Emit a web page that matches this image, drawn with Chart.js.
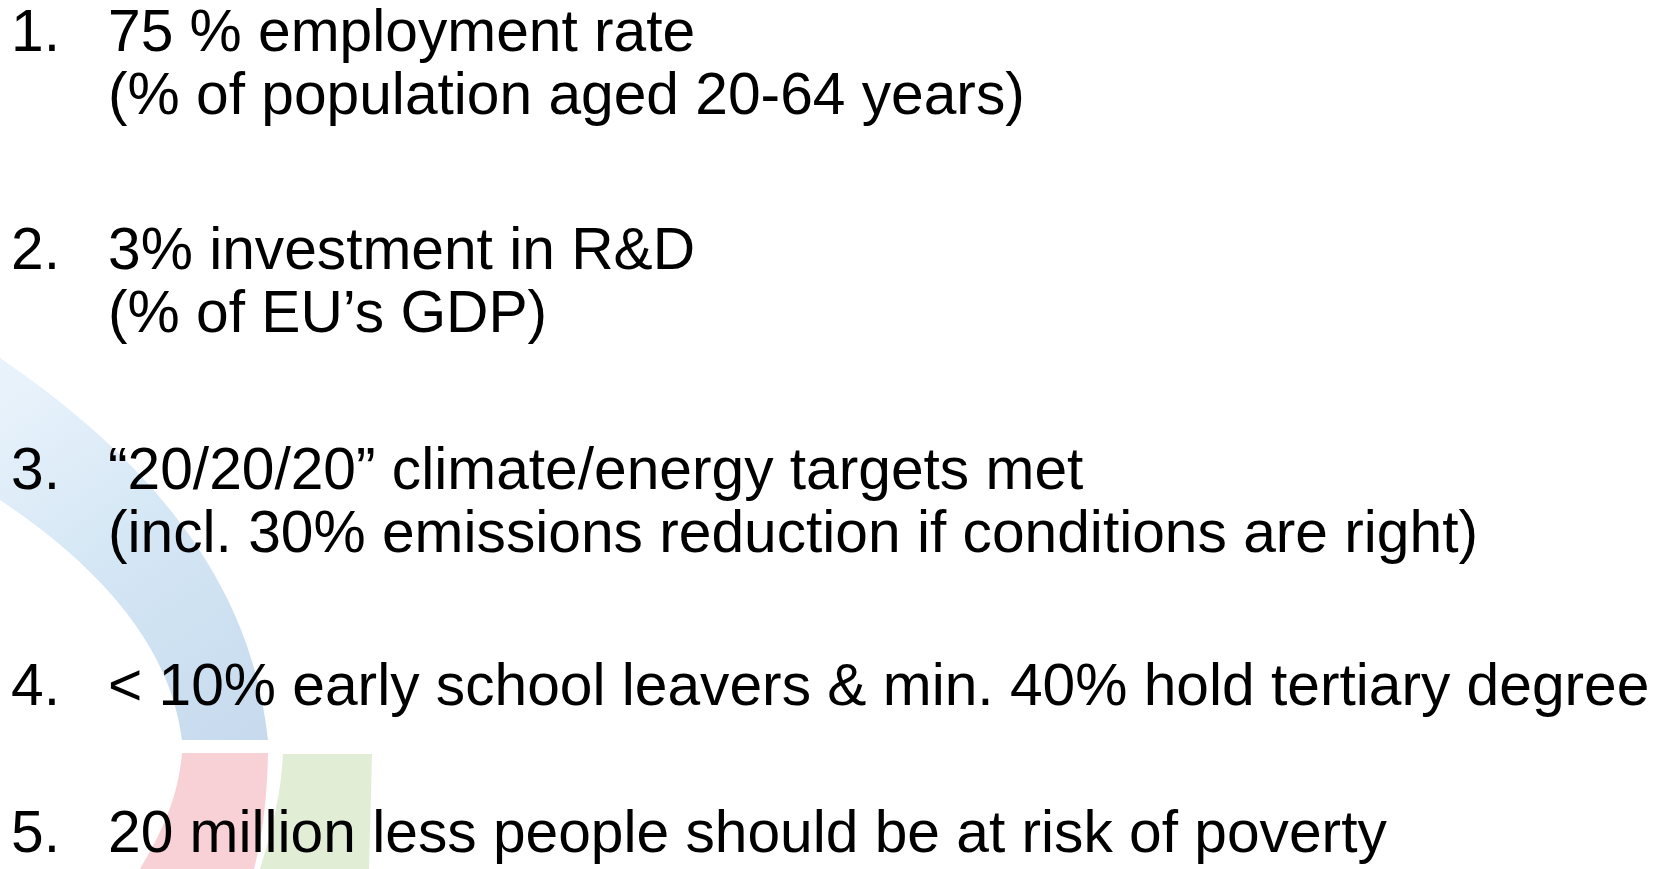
<!DOCTYPE html>
<html>
<head>
<meta charset="utf-8">
<script src="https://cdn.jsdelivr.net/npm/chart.js@4"></script>
<style>
  html, body { margin: 0; padding: 0; background: #ffffff; }
  #wrap { width: 1667px; height: 869px; position: relative; }
</style>
</head>
<body>
<div id="wrap"><canvas id="slide"></canvas></div>
<script>
// slide content
var itemNumbers = ["1.", "2.", "3.", "4.", "5."];
var itemLines = [
  ["75 % employment rate", "(% of population aged 20-64 years)"],
  ["3% investment in R&D", "(% of EU\u2019s GDP)"],
  ["\u201c20/20/20\u201d climate/energy targets met", "(incl. 30% emissions reduction if conditions are right)"],
  ["< 10% early school leavers & min. 40% hold tertiary degree"],
  ["20 million less people should be at risk of poverty"]
];

// faint logo behind the text
var logoPlugin = {
  id: "logo",
  beforeDatasetsDraw: function (chart) {
    var ctx = chart.ctx;
    var x = chart.scales.x, y = chart.scales.y;
    function px(v) { return x.getPixelForValue(v); }
    function py(v) { return y.getPixelForValue(v); }
    ctx.save();

    // blue swoosh
    var g = ctx.createLinearGradient(px(0), py(400), px(230), py(740));
    g.addColorStop(0, "#e8f2fb");
    g.addColorStop(0.45, "#d5e7f5");
    g.addColorStop(1, "#c8dbee");
    ctx.fillStyle = g;
    ctx.beginPath();
    ctx.moveTo(px(0), py(358));
    ctx.bezierCurveTo(px(120), py(440), px(250), py(560), px(268), py(740));
    ctx.lineTo(px(182), py(740));
    ctx.bezierCurveTo(px(170), py(640), px(90), py(560), px(0), py(500));
    ctx.closePath();
    ctx.fill();

    // red band
    ctx.fillStyle = "#f8d1d7";
    ctx.beginPath();
    ctx.moveTo(px(182), py(753));
    ctx.lineTo(px(268), py(753));
    ctx.bezierCurveTo(px(267), py(800), px(262), py(840), px(254), py(869));
    ctx.lineTo(px(140), py(869));
    ctx.bezierCurveTo(px(160), py(835), px(178), py(800), px(182), py(753));
    ctx.closePath();
    ctx.fill();

    // green band
    ctx.fillStyle = "#e2edd6";
    ctx.beginPath();
    ctx.moveTo(px(283), py(754));
    ctx.lineTo(px(372), py(754));
    ctx.lineTo(px(369), py(869));
    ctx.lineTo(px(260), py(869));
    ctx.bezierCurveTo(px(272), py(830), px(281), py(795), px(283), py(754));
    ctx.closePath();
    ctx.fill();

    ctx.restore();
  }
};

var textPlugin = {
  id: "items",
  afterDraw: function (chart, args, opts) {
    var ctx = chart.ctx;
    var x = chart.scales.x, y = chart.scales.y;
    ctx.save();
    ctx.fillStyle = "#000000";
    ctx.font = opts.fontSize + "px 'Liberation Sans', Arial, sans-serif";
    ctx.textBaseline = "alphabetic";
    ctx.textAlign = "left";
    itemNumbers.forEach(function (num, i) {
      var base = opts.paraBase[i];
      ctx.fillText(num, x.getPixelForValue(opts.numX), y.getPixelForValue(base));
      itemLines[i].forEach(function (line, j) {
        ctx.fillText(line, x.getPixelForValue(opts.textX), y.getPixelForValue(base + j * opts.lineGap));
      });
    });
    ctx.restore();
  }
};

new Chart("slide", {
  type: "scatter",
  data: { datasets: [] },
  options: {
    responsive: true,
    maintainAspectRatio: false,
    animation: false,
    layout: { padding: 0 },
    plugins: {
      legend: { display: false },
      tooltip: { enabled: false },
      items: {
        fontSize: 58.7,
        numX: 11,
        textX: 108,
        lineGap: 62.5,
        paraBase: [51, 269, 489, 705, 852]
      }
    },
    scales: {
      x: { type: "linear", min: 0, max: 1667, display: false },
      y: { type: "linear", min: 0, max: 869, reverse: true, display: false }
    }
  },
  plugins: [logoPlugin, textPlugin]
});
</script>
</body>
</html>
